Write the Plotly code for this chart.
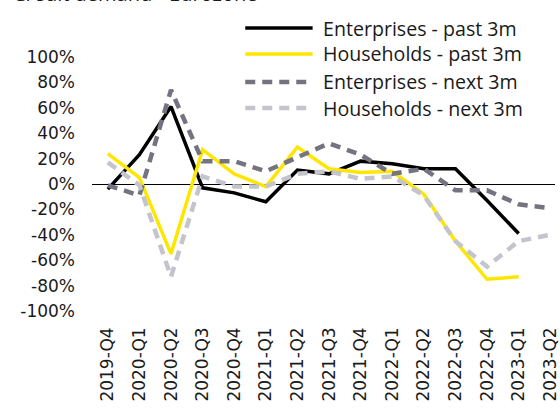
import plotly.graph_objects as go

quarters = ["2019-Q4", "2020-Q1", "2020-Q2", "2020-Q3", "2020-Q4",
            "2021-Q1", "2021-Q2", "2021-Q3", "2021-Q4", "2022-Q1",
            "2022-Q2", "2022-Q3", "2022-Q4", "2023-Q1", "2023-Q2"]

# Net percentage of banks reporting higher credit demand
enterprises_past = [-4, 23, 61, -3, -7, -14, 11, 8, 18, 16, 12, 12, -13, -39]
households_past = [24, 5, -55, 27, 8, -2, 29, 12, 9, 10, -8, -45, -75, -73]
enterprises_next = [-1, -9, 74, 18, 18, 10, 21, 32, 23, 8, 12, -5, -5, -16, -19]
households_next = [17, -1, -73, 6, -2, -2, 8, 10, 4, 6, -9, -45, -65, -45, -40]

y_ticks = [100, 80, 60, 40, 20, 0, -20, -40, -60, -80, -100]
y_tick_text = [f"{v}%" for v in y_ticks]

series = [
    ("Enterprises - past 3m", enterprises_past, "#000000", "solid", 3.5),
    ("Households - past 3m", households_past, "#FFE600", "solid", 3.5),
    ("Enterprises - next 3m", enterprises_next, "#747480", "10px,7px", 4.5),
    ("Households - next 3m", households_next, "#C4C4CD", "10px,7px", 4.5),
]

tick_font = dict(family="DejaVu Sans", size=17, color="#1a1a1a")
legend_font = dict(family="Open Sans", size=19.6, color="#1a1a1a")

fig = go.Figure()
for name, values, color, dash, width in series:
    fig.add_trace(go.Scatter(
        x=quarters[:len(values)], y=values, name=name, mode="lines",
        line=dict(color=color, width=width, dash=dash),
        showlegend=False,
    ))

# Hand-drawn legend in the upper right with long line samples
legend_rows = [1.114, 1.012, 0.902, 0.799]
shapes = []
annotations = []
for (name, _, color, dash, width), row in zip(series, legend_rows):
    shapes.append(dict(type="line", xref="paper", yref="paper",
                       x0=0.331, x1=0.4765, y0=row, y1=row,
                       line=dict(color=color, width=width, dash=dash)))
    annotations.append(dict(text=name, xref="paper", yref="paper",
                            x=0.4936, y=row, xanchor="left", yanchor="middle",
                            showarrow=False, font=legend_font))

annotations.append(dict(text="Credit demand - Eurozone", xref="paper", yref="paper",
                        x=-0.175, y=1.19, xanchor="left", yanchor="bottom",
                        showarrow=False,
                        font=dict(family="Open Sans", size=20, color="#1a1a1a")))

fig.update_layout(
    width=560, height=410,
    margin=dict(l=92, r=0, t=57, b=99),
    paper_bgcolor="white", plot_bgcolor="white",
    shapes=shapes, annotations=annotations,
    xaxis=dict(type="category", range=[-0.5, 14.15], showgrid=False,
               showline=False, zeroline=False, ticks="", tickangle=-90,
               tickfont=tick_font, ticklabelstandoff=12),
    yaxis=dict(range=[-100, 100], showgrid=False, showline=False,
               zeroline=True, zerolinecolor="#000000", zerolinewidth=1.3,
               tickvals=y_ticks, ticktext=y_tick_text, ticks="",
               tickfont=tick_font, ticklabelstandoff=16),
)

fig.write_html("out.html")
